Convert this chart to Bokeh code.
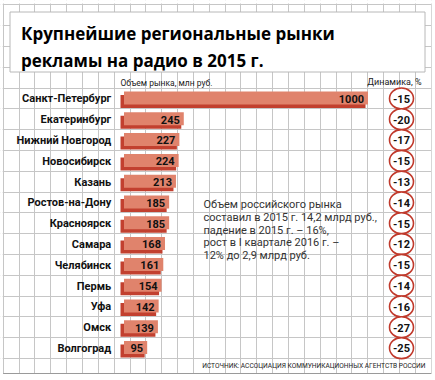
from bokeh.plotting import figure
from bokeh.models import Range1d, FixedTicker, ColumnDataSource
from bokeh.core.properties import value
from bokeh.embed import file_html
from bokeh.resources import INLINE

# ---- data ----
cities = ["Санкт-Петербург", "Екатеринбург", "Нижний Новгород", "Новосибирск",
          "Казань", "Ростов-на-Дону", "Красноярск", "Самара", "Челябинск",
          "Пермь", "Уфа", "Омск", "Волгоград"]
market = [1000, 245, 227, 224, 213, 185, 185, 168, 161, 154, 142, 139, 95]
dynamics = [-15, -20, -17, -15, -13, -14, -15, -12, -15, -14, -16, -27, -25]

title_lines = ["Крупнейшие региональные рынки", "рекламы на радио в 2015 г."]
note_lines = ["Объем российского рынка",
              "составил в 2015 г. 14,2 млрд руб.,",
              "падение в 2015 г. – 16%,",
              "рост в I квартале 2016 г. –",
              "12% до 2,9 млрд руб."]
source_text = "ИСТОЧНИК: АССОЦИАЦИЯ КОММУНИКАЦИОННЫХ АГЕНТСТВ РОССИИ"
head_left = "Объем рынка, млн руб."
head_right = "Динамика, %"

# ---- layout helpers (page pixels -> data units) ----
X0, KX = 123.5, 0.244      # px of value 0, px per unit
Y0, KY = 98.0, 20.8        # px of first row, px per row

def vx(px):
    return (px - X0) / KX

def ry(py):
    return (py - Y0) / KY

W, H = 435, 380
p = figure(width=W, height=H,
           x_range=Range1d(vx(0), vx(W)),
           y_range=Range1d(ry(H), ry(0)),
           x_axis_location=None, y_axis_location=None,
           toolbar_location=None, output_backend="svg",
           min_border=0, outline_line_color=None,
           background_fill_color="white", border_fill_color="white")

GRID = "#c6c6c6"
p.xgrid.ticker = FixedTicker(ticks=[vx(2.7 + 15.85 * k) for k in range(0, 28)])
p.ygrid.ticker = FixedTicker(ticks=[k + 0.5 for k in range(-5, 13)])
for g in (p.xgrid, p.ygrid):
    g.grid_line_color = GRID
    g.grid_line_width = 1

# white margins outside the grid frame
p.quad(left=[vx(0), vx(431.2), vx(0), vx(0)],
       right=[vx(2.2), vx(W), vx(W), vx(W)],
       top=[ry(0), ry(0), ry(0), ry(373.5)],
       bottom=[ry(H), ry(H), ry(3.0), ry(H)],
       fill_color="white", line_color=None)
# bottom border
p.segment(x0=[vx(2.7)], x1=[vx(430.6)], y0=[ry(373)], y1=[ry(373)],
          line_color="#9a9a9a", line_width=1)

# title box
p.quad(left=[vx(9.5)], right=[vx(424.5)], top=[ry(11.5)], bottom=[ry(71.5)],
       fill_color="white", line_color="#b8b8b8", line_width=1)
p.text(x=[vx(20.5)] * 2, y=[ry(33.3), ry(60)], text=title_lines,
       text_font=value("Open Sans"), text_font_style="bold",
       text_font_size="17px", text_color="#000000",
       text_baseline="alphabetic", text_align="left")

# headers
p.text(x=[vx(120)], y=[ry(82.5)], text=[head_left], text_font=value("Roboto"),
       text_font_size="8.5px", text_color="#222222",
       text_baseline="middle", text_align="left")
p.text(x=[vx(421)], y=[ry(81.5)], text=[head_right], text_font=value("Roboto"),
       text_font_size="9px", text_color="#222222",
       text_baseline="middle", text_align="right")

rows = list(range(len(cities)))
src = ColumnDataSource(dict(
    row=rows, city=cities, val=market, dyn=[str(d) for d in dynamics],
    dark_left=[vx(X0 - 3.5)] * len(rows),
    dark_right=[v - 2.5 / KX for v in market],
    light_top=[r - 7.0 / KY for r in rows],
    light_bottom=[r + 6.0 / KY for r in rows],
    dark_top=[r - 3.5 / KY for r in rows],
    dark_bottom=[r + 9.5 / KY for r in rows],
    lab_x=[v - 4 / KX for v in market],
    lab_y=[r + 0.3 / KY for r in rows],
    val_text=[str(v) for v in market],
))

# bars (3D look: dark shadow + light face)
p.quad(left="dark_left", right="dark_right", top="dark_top", bottom="dark_bottom",
       source=src, fill_color="#c2402f", line_color=None)
p.quad(left=0, right="val", top="light_top", bottom="light_bottom",
       source=src, fill_color="#e0836c", line_color=None)
p.text(x="lab_x", y="lab_y", text="val_text", source=src,
       text_font=value("Roboto"), text_font_style="bold", text_font_size="11px",
       text_color="#111111", text_baseline="middle", text_align="right")

# city labels
p.text(x=vx(110.7), y="lab_y", text="city", source=src,
       text_font=value("Roboto"), text_font_style="bold", text_font_size="11px",
       text_color="#111111", text_baseline="middle", text_align="right")

# dynamics circles
p.ellipse(x=vx(401), y="row", width=24 / KX, height=21 / KY, source=src,
          fill_color="white", line_color="#c0392b", line_width=1.6)
p.text(x=vx(401), y="lab_y", text="dyn", source=src,
       text_font=value("Roboto"), text_font_style="bold", text_font_size="11px",
       text_color="#111111", text_baseline="middle", text_align="center")

# note
p.text(x=[vx(203)] * len(note_lines),
       y=[ry(204 + 12.8 * k) for k in range(len(note_lines))],
       text=note_lines, text_font=value("Roboto"), text_font_size="11px",
       text_color="#333333", text_baseline="middle", text_align="left")

# source
p.text(x=[vx(425)], y=[ry(365)], text=[source_text], text_font=value("Roboto"),
       text_font_size="6.6px", text_color="#222222",
       text_baseline="middle", text_align="right")

open("out.html", "w").write(file_html(p, INLINE))
